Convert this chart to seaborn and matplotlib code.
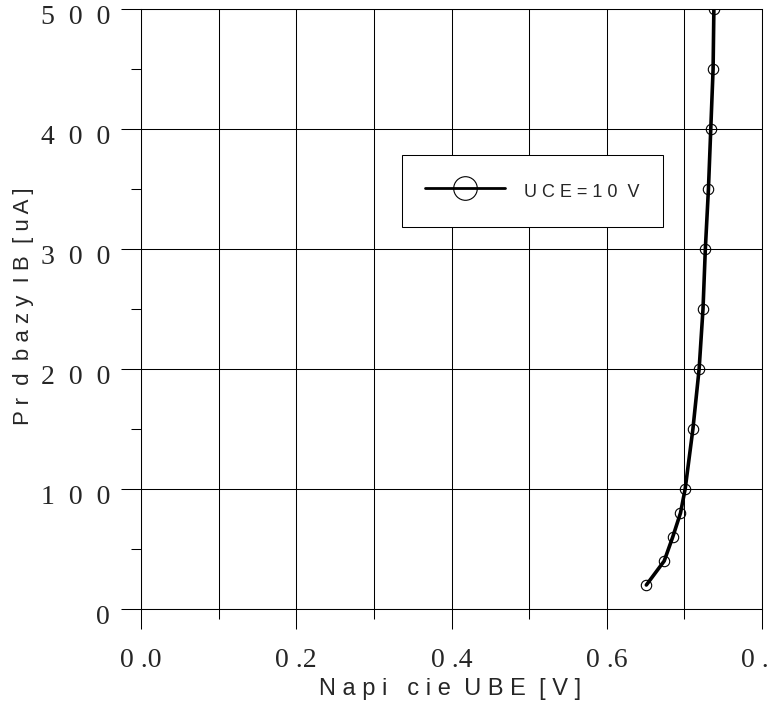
import pandas as pd
import seaborn as sns
import matplotlib.pyplot as plt
import matplotlib.transforms as mtransforms
from matplotlib.lines import Line2D
from matplotlib.ticker import MultipleLocator

# Charakterystyka wejściowa tranzystora, UCE = 10 V
ube = [0.651, 0.674, 0.685, 0.695, 0.701, 0.711, 0.719, 0.724, 0.727, 0.731, 0.734, 0.737, 0.738]
ib = [20, 40, 60, 80, 100, 150, 200, 250, 300, 350, 400, 450, 500]
series_label = 'U C E = 1 0  V'

x_ticks = [0.0, 0.2, 0.4, 0.6, 0.8]
x_tick_labels = ['0 .0', '0 .2', '0 .4', '0 .6', '0 .8']
y_ticks = [0, 100, 200, 300, 400, 500]
y_tick_labels = ['0', '1  0  0', '2  0  0', '3  0  0', '4  0  0', '5  0  0']

df = pd.DataFrame({'UBE': ube, 'IB': ib})

sns.set_style('ticks')
plt.rcParams['font.family'] = ['Liberation Sans', 'DejaVu Sans']

fig = plt.figure(figsize=(7.67, 7.18), dpi=100)
ax = fig.add_axes([141 / 767, 109 / 718, 621 / 767, 600 / 718])

sns.lineplot(x='UBE', y='IB', data=df, ax=ax, color='black', lw=2.6,
             marker='o', markersize=7.5, markerfacecolor='none',
             markeredgecolor='black', markeredgewidth=0.8,
             estimator=None, sort=False, legend=False, zorder=3)

ax.set_xlim(0, 0.8)
ax.set_ylim(0, 500)
ax.set_xticks(x_ticks)
ax.set_xticklabels(x_tick_labels, fontfamily='Liberation Serif', fontsize=20)
ax.set_yticks(y_ticks)
ax.set_yticklabels(y_tick_labels, fontfamily='Liberation Serif', fontsize=20)
ax.xaxis.set_minor_locator(MultipleLocator(0.1))
ax.yaxis.set_minor_locator(MultipleLocator(50))

ax.tick_params(which='major', direction='out', length=14.4, width=0.75, color='black')
ax.tick_params(which='minor', direction='out', length=7.2, width=0.75, color='black')
ax.tick_params(axis='x', which='major', pad=14)
ax.tick_params(axis='y', which='major', pad=8)

# etykiety osi Y lekko poniżej linii siatki, jak w oryginale
shift = mtransforms.ScaledTranslation(0, -5 / 100, fig.dpi_scale_trans)
for lbl in ax.get_yticklabels():
    lbl.set_transform(lbl.get_transform() + shift)

ax.grid(True, which='major', axis='both', color='black', lw=0.75)
ax.grid(True, which='minor', axis='x', color='black', lw=0.75)
for sp in ax.spines.values():
    sp.set_visible(True)
    sp.set_color('black')
    sp.set_linewidth(0.75)

ax.set_xlabel('N a p i   c i e  U B E  [ V ]', fontsize=17)
ax.set_ylabel('P r  d  b a z y  I B  [ u A ]', fontsize=16)
ax.xaxis.set_label_coords(0.4976, -0.115)
ax.yaxis.set_label_coords(-0.172, 0.505)

handle = Line2D([], [], color='black', lw=2, marker='o', markersize=17,
                markerfacecolor='none', markeredgecolor='black', markeredgewidth=0.8)
leg = ax.legend([handle], [series_label], loc='upper left',
                bbox_to_anchor=(0.4198, 0.756), borderaxespad=0,
                fontsize=13, handlelength=4.4, handletextpad=1.1,
                handleheight=1.7, borderpad=1.3, fancybox=False, framealpha=1)
leg.get_frame().set_edgecolor('black')
leg.get_frame().set_linewidth(0.75)

fig.savefig('out.png', dpi=100)
